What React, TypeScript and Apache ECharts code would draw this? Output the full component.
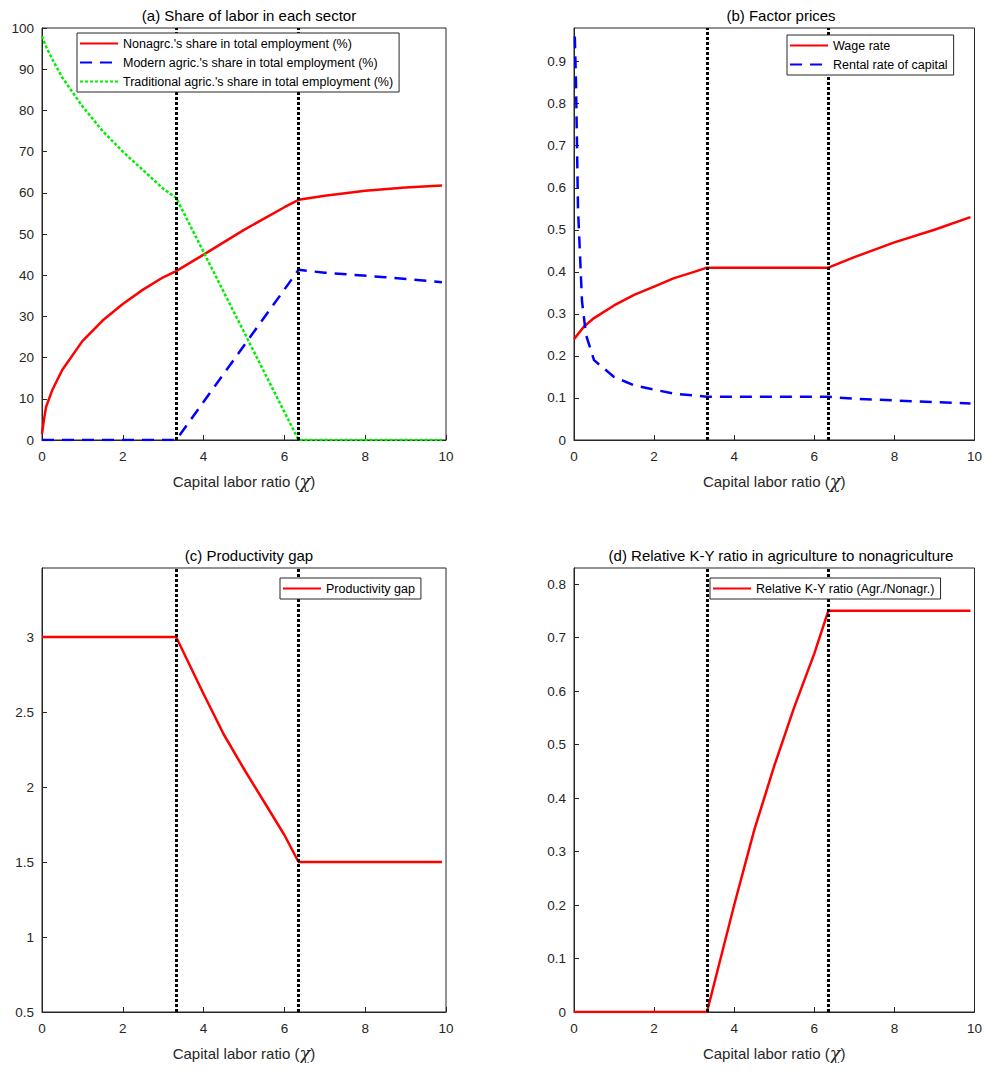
import { useRef, useEffect } from 'react';
import * as echarts from 'echarts';

// --- data ---
const nonagr: [number, number][] = [[0, 1.5], [0.05, 5], [0.1, 8], [0.25, 12], [0.5, 17], [1, 24], [1.5, 29], [2, 33], [2.5, 36.5], [3, 39.5], [3.32, 41], [4, 45], [5, 51], [6, 56.5], [6.35, 58.3], [7, 59.3], [8, 60.5], [9, 61.3], [9.9, 61.8]];
const modern: [number, number][] = [[0, 0], [3.32, 0], [6.35, 41.3], [7, 40.6], [8.5, 39.5], [9.9, 38.3]];
const traditional: [number, number][] = [[0, 98], [0.1, 95.5], [0.25, 92.5], [0.5, 88], [1, 81], [1.5, 75], [2, 70], [2.5, 65.5], [3, 61], [3.32, 58.8], [6.35, 0], [9.9, 0]];
const wage: [number, number][] = [[0, 0.24], [0.25, 0.27], [0.5, 0.29], [1, 0.32], [1.5, 0.345], [2, 0.365], [2.5, 0.385], [3, 0.4], [3.32, 0.41], [6.35, 0.41], [7, 0.435], [8, 0.47], [9, 0.5], [9.9, 0.53]];
const rental: [number, number][] = [[0.02, 0.96], [0.05, 0.85], [0.1, 0.55], [0.2, 0.33], [0.3, 0.25], [0.5, 0.19], [1, 0.15], [1.5, 0.13], [2, 0.12], [2.5, 0.11], [3.32, 0.103], [6.35, 0.103], [7, 0.098], [8, 0.094], [9, 0.09], [9.9, 0.087]];
const gap: [number, number][] = [[0, 3], [3.32, 3], [4, 2.62], [4.5, 2.35], [5, 2.12], [5.5, 1.9], [6, 1.68], [6.35, 1.5], [9.9, 1.5]];
const kyRatio: [number, number][] = [[0, 0], [3.32, 0], [4, 0.2], [4.5, 0.34], [5, 0.46], [5.5, 0.57], [6, 0.67], [6.35, 0.75], [9.9, 0.75]];
const thresholds = [3.32, 6.35];
const titles = ['(a) Share of labor in each sector', '(b) Factor prices', '(c) Productivity gap', '(d) Relative K-Y ratio in agriculture to nonagriculture'];

const FONT = 'Liberation Sans, Arial, sans-serif';
// page body has an 8px margin, so positions are shifted by -8
const grids = [
  { left: 34, top: 20, width: 404, height: 412 },
  { left: 566, top: 20, width: 404, height: 412 },
  { left: 34, top: 560, width: 404, height: 444 },
  { left: 566, top: 560, width: 404, height: 444 },
];
const yRanges = [
  { min: 0, max: 100, interval: 10 },
  { min: 0, max: 0.98, interval: 0.1 },
  { min: 0.5, max: 3.46, interval: 0.5 },
  { min: 0, max: 0.83, interval: 0.1 },
];

export default function App() {
  const ref = useRef<HTMLDivElement>(null);

  useEffect(() => {
    if (!ref.current) return;
    const chart = echarts.init(ref.current, null, { renderer: 'svg' });

    const vlines = {
      silent: true,
      symbol: 'none',
      label: { show: false },
      lineStyle: { color: '#000', type: [3, 2], width: 3 },
      data: thresholds.map((v) => ({ xAxis: v })),
    };
    const red = { color: '#ff0000', width: 2.5, type: 'solid' };
    const blue = { color: '#0000ff', width: 2.5, type: [12, 8] };
    const green = { color: '#00ee00', width: 2.5, type: [3, 2] };
    const line = (name: string, data: [number, number][], idx: number, ls: any, withMark = false) => ({
      type: 'line', name, data, xAxisIndex: idx, yAxisIndex: idx, symbol: 'none',
      lineStyle: ls, itemStyle: { color: ls.color }, z: 3,
      ...(withMark ? { markLine: vlines } : {}),
    });
    const legendBase = {
      orient: 'vertical', backgroundColor: '#fff', borderColor: '#262626', borderWidth: 1, z: 20,
      itemWidth: 38, itemHeight: 10, itemGap: 6, padding: [4, 6, 4, 2], align: 'left',
      itemStyle: { opacity: 0 },
      textStyle: { fontFamily: FONT, fontSize: 12.5, color: '#000' },
    };

    chart.setOption({
      animation: false,
      title: titles.map((t, i) => ({
        text: t, left: grids[i].left + grids[i].width / 2, textAlign: 'center', top: grids[i].top - 25,
        textStyle: { fontFamily: FONT, fontSize: 15, fontWeight: 'normal', color: '#000' },
      })),
      grid: grids.map((g) => ({ ...g, show: true, borderColor: '#262626', borderWidth: 1, backgroundColor: '#fff' })),
      xAxis: grids.map((_, i) => ({
        type: 'value', gridIndex: i, min: 0, max: 10, interval: 2,
        name: '{t|Capital labor ratio (}{c|χ}{t|)}', nameLocation: 'middle', nameGap: 32,
        nameTextStyle: { rich: { t: { fontFamily: FONT, fontSize: 15, color: '#262626' }, c: { fontFamily: 'DejaVu Serif', fontStyle: 'italic', fontSize: 18, color: '#262626' } } },
        axisLine: { lineStyle: { color: '#262626' } },
        axisTick: { inside: true, length: 5, lineStyle: { color: '#262626' } },
        axisLabel: { fontFamily: FONT, fontSize: 13.5, color: '#262626', margin: 9 },
        splitLine: { show: false },
      })),
      yAxis: grids.map((_, i) => ({
        type: 'value', gridIndex: i, ...yRanges[i],
        axisLine: { show: true, lineStyle: { color: '#262626' } },
        axisTick: { show: true, inside: true, length: 5, lineStyle: { color: '#262626' } },
        axisLabel: { fontFamily: FONT, fontSize: 13.5, color: '#262626', showMaxLabel: i === 0 },
        splitLine: { show: false },
      })),
      legend: [
        { ...legendBase, left: 69, top: 25, data: ["Nonagrc.'s share in total employment (%)", "Modern agric.'s share in total employment (%)", "Traditional agric.'s share in total employment (%)"] },
        { ...legendBase, left: 779, top: 27, data: ['Wage rate', 'Rental rate of capital'] },
        { ...legendBase, left: 272, top: 570, data: ['Productivity gap'] },
        { ...legendBase, left: 702, top: 570, data: ['Relative K-Y ratio (Agr./Nonagr.)'] },
      ],
      series: [
        line("Nonagrc.'s share in total employment (%)", nonagr, 0, red, true),
        line("Modern agric.'s share in total employment (%)", modern, 0, blue),
        line("Traditional agric.'s share in total employment (%)", traditional, 0, green),
        line('Wage rate', wage, 1, red, true),
        line('Rental rate of capital', rental, 1, blue),
        line('Productivity gap', gap, 2, red, true),
        line('Relative K-Y ratio (Agr./Nonagr.)', kyRatio, 3, red, true),
      ],
    });

    return () => chart.dispose();
  }, []);

  return <div ref={ref} style={{ width: 977, height: 1055 }} />;
}
